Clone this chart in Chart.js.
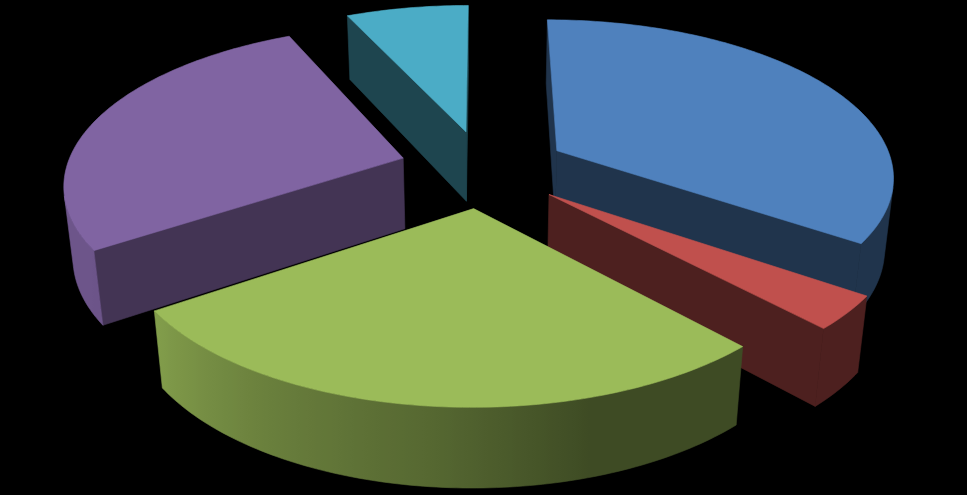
<!DOCTYPE html>
<html>
<head>
<meta charset="utf-8">
<title>Pie</title>
<script src="https://cdn.jsdelivr.net/npm/chart.js@4/dist/chart.umd.min.js"></script>
<style>
    html, body { margin: 0; background: #000; overflow: hidden; }
    #chartBox { position: relative; width: 967px; height: 495px; }
</style>
</head>
<body>
<div id="chartBox"><canvas id="myChart"></canvas></div>
<script>
const categories = ["A", "B", "C", "D", "E"];
const seriesValues = [34.6, 3.4, 27.6, 27.5, 6.9];
const sliceColors = ["#4f81bd", "#c0504d", "#9bbb59", "#8064a2", "#4bacc6"];
const innerShade = [0.4, 0.4, 0.4, 0.52, 0.4];

// projection of the pie plane, fitted by eye to the picture
const view = { cx: 483.5, cy: 168.5, fx: 337, fy: 155.5, tilt: 0.15, depth: 72.6, shrink: 0.022, explode: 0.25 };

// [clock angle, shade] for the outer rim
const rimShade = [[0, 0.4], [163, 0.4], [185, 0.55], [210, 0.68], [237, 0.85], [360, 0.87]];

const project = (u, v, h) => {
    const d = 1 - view.tilt * v + view.shrink * h;
    return [view.cx + view.fx * u / d, view.cy + (view.fy * v + view.depth * h) / d];
};

const shadeColor = (hex, s) => {
    const n = parseInt(hex.slice(1), 16);
    const r = Math.round((n >> 16 & 255) * s), g = Math.round((n >> 8 & 255) * s), b = Math.round((n & 255) * s);
    return `rgb(${r},${g},${b})`;
};

const rimAt = (theta) => {
    let deg = (theta + Math.PI / 2) * 180 / Math.PI;
    deg = ((deg % 360) + 360) % 360;
    for (let i = 1; i < rimShade.length; i++) {
        const [a0, s0] = rimShade[i - 1], [a1, s1] = rimShade[i];
        if (deg <= a1) return s0 + (s1 - s0) * (deg - a0) / (a1 - a0);
    }
    return 0.87;
};

const fillPoly = (ctx, pts, color) => {
    ctx.beginPath();
    pts.forEach((p, i) => i ? ctx.lineTo(p[0], p[1]) : ctx.moveTo(p[0], p[1]));
    ctx.closePath();
    ctx.fillStyle = color;
    ctx.strokeStyle = color;
    ctx.lineWidth = 0.6;
    ctx.fill();
    ctx.stroke();
};

// signed area of a quad on screen
const facing = (p) => {
    let a = 0;
    p.forEach((q, i) => {
        const r = p[(i + 1) % p.length];
        a += q[0] * r[1] - r[0] * q[1];
    });
    return a;
};

// the visible part of the rim as one polygon, shaded left to right
const drawRim = (ctx, rim, color) => {
    const tops = [], bottoms = [], shades = [];
    for (let k = 0; k < rim.length - 1; k++) {
        const a = rim[k], b = rim[k + 1];
        const quad = [project(a[0], a[1], 0), project(a[0], a[1], 1), project(b[0], b[1], 1), project(b[0], b[1], 0)];
        if (facing(quad) <= 0) continue;
        if (!tops.length) {
            tops.push(quad[0]);
            bottoms.push(quad[1]);
            shades.push(rimAt(a[2]));
        }
        tops.push(quad[3]);
        bottoms.push(quad[2]);
        shades.push(rimAt(b[2]));
    }
    if (tops.length < 2) return;
    const x0 = tops[0][0], x1 = tops[tops.length - 1][0];
    const grad = ctx.createLinearGradient(x0, 0, x1, 0);
    tops.forEach((p, k) => {
        const pos = Math.min(1, Math.max(0, (p[0] - x0) / (x1 - x0)));
        grad.addColorStop(pos, shadeColor(color, shades[k]));
    });
    fillPoly(ctx, tops.concat(bottoms.reverse()), grad);
};

const drawSlice = (ctx, arc, i) => {
    const mid = (arc.startAngle + arc.endAngle) / 2;
    const ox = Math.cos(mid) * view.explode, oy = Math.sin(mid) * view.explode;
    const color = sliceColors[i];
    const steps = Math.max(4, Math.ceil((arc.endAngle - arc.startAngle) * 60));
    const rim = [];
    for (let k = 0; k <= steps; k++) {
        const t = arc.startAngle + (arc.endAngle - arc.startAngle) * k / steps;
        rim.push([ox + Math.cos(t), oy + Math.sin(t), t]);
    }
    const first = rim[0], last = rim[steps];

    // the two cut faces
    const wallA = [project(ox, oy, 0), project(first[0], first[1], 0), project(first[0], first[1], 1), project(ox, oy, 1)];
    const wallB = [project(last[0], last[1], 0), project(ox, oy, 0), project(ox, oy, 1), project(last[0], last[1], 1)];
    if (facing(wallA) < 0) fillPoly(ctx, wallA, shadeColor(color, innerShade[i]));
    if (facing(wallB) < 0) fillPoly(ctx, wallB, shadeColor(color, innerShade[i]));

    drawRim(ctx, rim, color);

    // top
    const top = [project(ox, oy, 0)];
    rim.forEach((p) => top.push(project(p[0], p[1], 0)));
    fillPoly(ctx, top, color);
};

const pie3d = {
    id: "pie3d",
    beforeDatasetsDraw(chart) {
        const ctx = chart.ctx;
        const arcs = chart.getDatasetMeta(0).data;
        const order = arcs.map((a, i) => i).sort((a, b) => {
            const m = (x) => Math.sin((arcs[x].startAngle + arcs[x].endAngle) / 2);
            return m(a) - m(b);
        });
        ctx.save();
        order.forEach((i) => drawSlice(ctx, arcs[i], i));
        ctx.restore();
        return false;
    }
};

new Chart("myChart", {
    type: "pie",
    data: {
        labels: categories,
        datasets: [{
            data: seriesValues,
            backgroundColor: sliceColors,
            borderWidth: 0
        }]
    },
    options: {
        responsive: true,
        maintainAspectRatio: false,
        animation: false,
        events: [],
        plugins: { legend: { display: false }, tooltip: { enabled: false } }
    },
    plugins: [pie3d]
});
</script>
</body>
</html>
